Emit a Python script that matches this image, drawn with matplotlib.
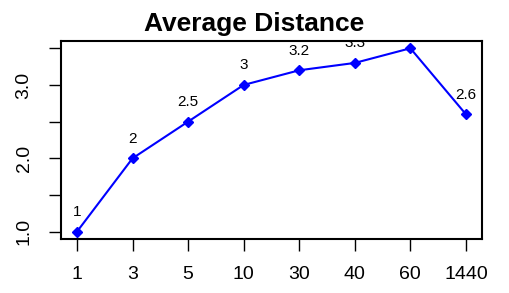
import matplotlib
matplotlib.use("Agg")
import matplotlib.pyplot as plt

plt.rcParams['font.family'] = ['Liberation Sans', 'DejaVu Sans']

minutes = ["1", "3", "5", "10", "30", "40", "60", "1440"]
avg_dist = [1, 2, 2.5, 3, 3.2, 3.3, 3.5, 2.6]
point_labels = ["1", "2", "2.5", "3", "3.2", "3.3", "3.5", "2.6"]
y_ticks = [1.0, 1.5, 2.0, 2.5, 3.0, 3.5]
y_ticklabels = ["1.0", "", "2.0", "", "3.0", ""]

fig = plt.figure(figsize=(5.09, 2.93), dpi=100)
ax = fig.add_axes([0.1198, 0.1843, 0.827, 0.676])

xs = list(range(1, len(minutes) + 1))
ax.plot(xs, avg_dist, color='#0000FF', lw=1.5, marker='D', ms=4.8)

for x, y, lab in zip(xs, avg_dist, point_labels):
    ax.annotate(lab, (x, y), xytext=(0, 9), textcoords='offset points',
                ha='center', va='bottom', fontsize=11, clip_on=True,
                annotation_clip=True)

ax.set_xlim(0.712, 8.288)
ax.set_ylim(0.9, 3.6)
ax.set_xticks(xs)
ax.set_xticklabels(minutes, fontsize=14)
ax.set_yticks(y_ticks)
ax.set_yticklabels(y_ticklabels, fontsize=14, rotation=90, va='center')
ax.tick_params(axis='both', direction='out', length=8.5, width=1, pad=11)
ax.tick_params(axis='y', pad=12)
for s in ax.spines.values():
    s.set_linewidth(1.5)

fig.suptitle("Average Distance", fontsize=19, fontweight='bold', y=0.96)

fig.savefig("out.png", dpi=100)
